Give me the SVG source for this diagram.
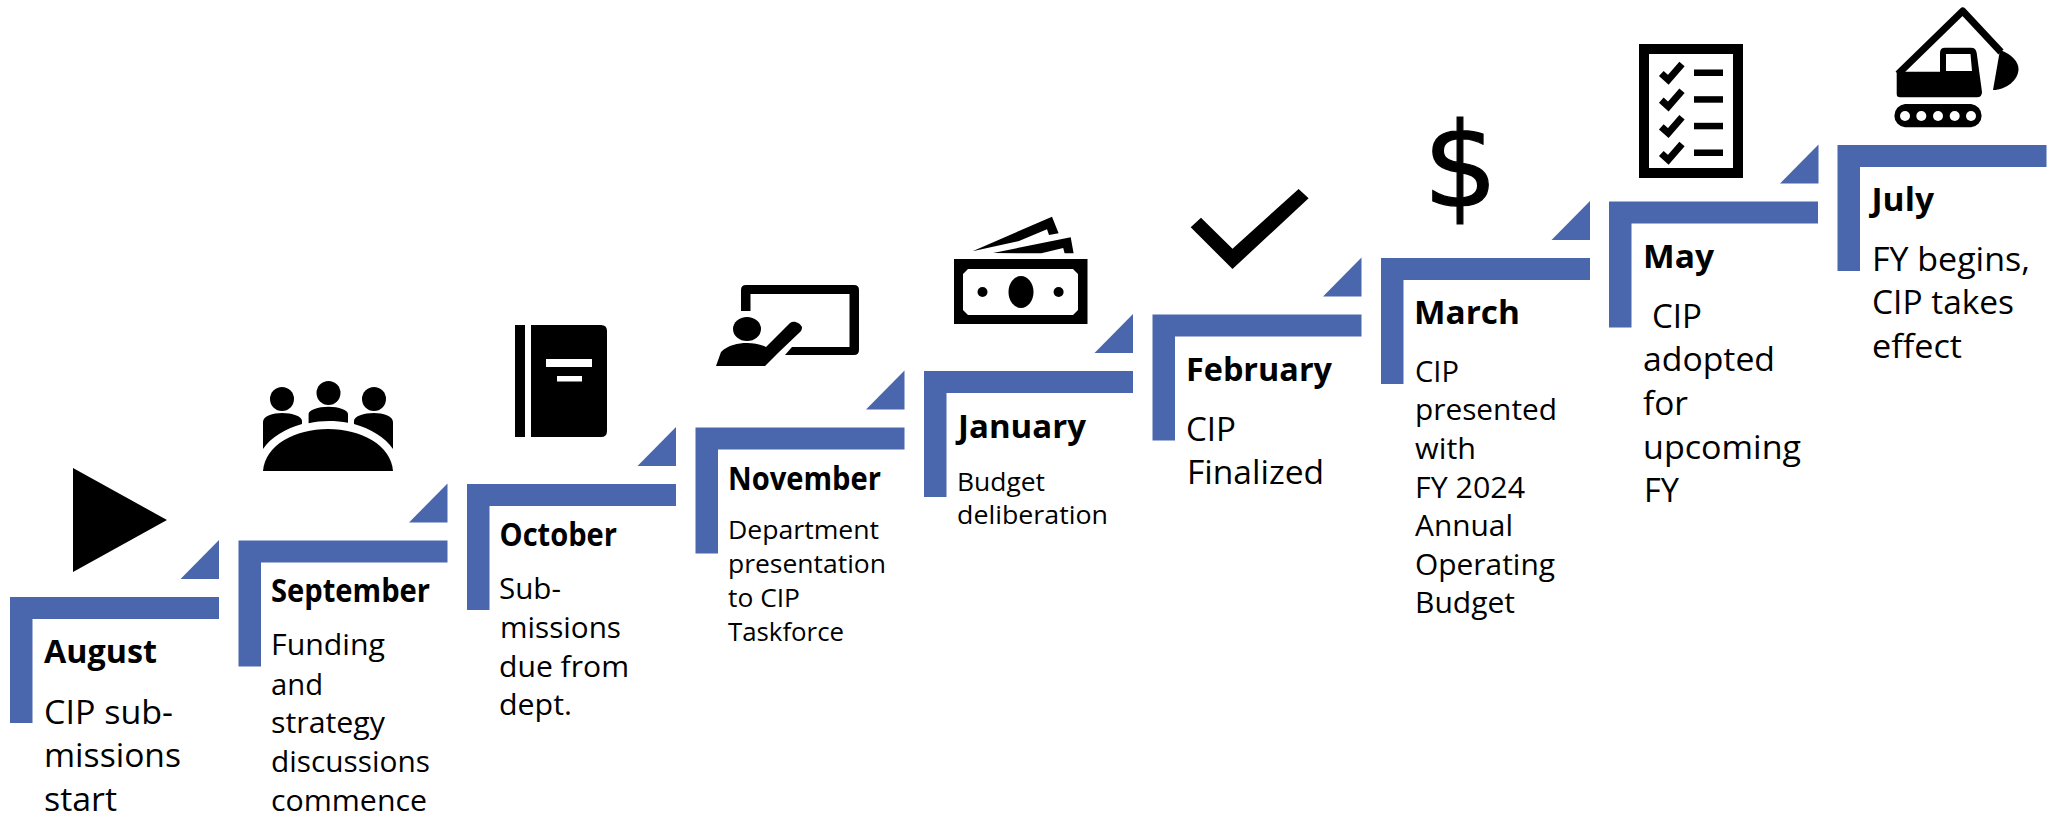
<svg xmlns="http://www.w3.org/2000/svg" xmlns:xlink="http://www.w3.org/1999/xlink" width="2049" height="817" viewBox="0 0 2049 817">
<style>
text{font-family:"Open Sans","Noto Sans","Liberation Sans",sans-serif;fill:#000}
.t{font-weight:700;font-size:31.500px}
.b{font-size:33px}
.m{font-size:29px}
.s{font-size:25px}
.step{fill:#4A67AE}
.ic{fill:#000}
.w{fill:#fff}
</style>
<defs>
<path id="bracket" class="step" d="M0 0H209V22H22.500V126H0Z"/>
<polygon id="tri" class="step" points="0,39 38.500,0 38.500,39"/>
<polyline id="tick" points="1661.300,73.500 1668.300,79.800 1682,64" fill="none" stroke="#000" stroke-width="7"/>
<rect id="dash" x="1694" y="69.500" width="29" height="6.500" fill="#000"/>
</defs>
<rect width="2049" height="817" fill="#fff"/>
<g id="connectors">
<use xlink:href="#tri" href="#tri" x="180.500" y="540"/>
<use xlink:href="#tri" href="#tri" x="409" y="483.500"/>
<use xlink:href="#tri" href="#tri" x="637.500" y="427"/>
<use xlink:href="#tri" href="#tri" x="866" y="370.500"/>
<use xlink:href="#tri" href="#tri" x="1094.500" y="314"/>
<use xlink:href="#tri" href="#tri" x="1323" y="257.500"/>
<use xlink:href="#tri" href="#tri" x="1551.500" y="201"/>
<use xlink:href="#tri" href="#tri" x="1780" y="144.500"/>
</g>
<g id="node-august">
<use xlink:href="#bracket" href="#bracket" x="10" y="597"/>
<polygon class="ic" points="73,468 167,520 73,572"/>
<text class="t" x="44" y="663" textLength="113" lengthAdjust="spacingAndGlyphs">August</text>
<text class="b" x="44" y="724" textLength="129" lengthAdjust="spacingAndGlyphs">CIP sub-</text>
<text class="b" x="44" y="767" textLength="137" lengthAdjust="spacingAndGlyphs">missions</text>
<text class="b" x="44" y="811" textLength="73" lengthAdjust="spacingAndGlyphs">start</text>
</g>
<g id="node-september">
<use xlink:href="#bracket" href="#bracket" x="238.500" y="540.500"/>
<ellipse class="ic" cx="282" cy="399" rx="12" ry="12"/>
<ellipse class="ic" cx="328.500" cy="393" rx="12" ry="12"/>
<ellipse class="ic" cx="374" cy="399" rx="12" ry="12"/>
<path class="ic" d="M263 449V422C263 416 273 413 282 413C292 413 302 416 302 421V424C285 429 271 437 263 449Z"/>
<path class="ic" d="M393 449V422C393 416 383 413 374 413C364 413 354 416 354 421V424C371 429 385 437 393 449Z"/>
<path class="ic" d="M308.600 423.300V414C308.600 410 318 406.700 328.400 406.700C339 406.700 348 410 348 414V422.700C335 420.300 321 420.300 308.600 423.300Z"/>
<path class="ic" d="M263 471C265 445 295 429 328 429C361 429 391 445 393 471Z"/>
<text class="t" x="271" y="602" textLength="159" lengthAdjust="spacingAndGlyphs">September</text>
<text class="m" x="271" y="655" textLength="114" lengthAdjust="spacingAndGlyphs">Funding</text>
<text class="m" x="271" y="695" textLength="52" lengthAdjust="spacingAndGlyphs">and</text>
<text class="m" x="271" y="733" textLength="114" lengthAdjust="spacingAndGlyphs">strategy</text>
<text class="m" x="271" y="772" textLength="159" lengthAdjust="spacingAndGlyphs">discussions</text>
<text class="m" x="271" y="811" textLength="156" lengthAdjust="spacingAndGlyphs">commence</text>
</g>
<g id="node-october">
<use xlink:href="#bracket" href="#bracket" x="467" y="484"/>
<rect class="ic" x="515" y="325" width="10" height="112"/>
<path class="ic" d="M531 325H601Q607 325 607 331V431Q607 437 601 437H531Z"/>
<rect class="w" x="546" y="359" width="46" height="8"/>
<rect class="w" x="557" y="376" width="25" height="5.500"/>
<text class="t" x="499.500" y="546" textLength="117.500" lengthAdjust="spacingAndGlyphs">October</text>
<text class="m" x="499" y="599" textLength="62" lengthAdjust="spacingAndGlyphs">Sub-</text>
<text class="m" x="500" y="638" textLength="121" lengthAdjust="spacingAndGlyphs">missions</text>
<text class="m" x="499" y="677" textLength="130" lengthAdjust="spacingAndGlyphs">due from</text>
<text class="m" x="499" y="715" textLength="73" lengthAdjust="spacingAndGlyphs">dept.</text>
</g>
<g id="node-november">
<use xlink:href="#bracket" href="#bracket" x="695.500" y="427.500"/>
<path class="ic" fill-rule="evenodd" d="M741 311V290Q741 285 746 285H854Q859 285 859 290V350Q859 355 854 355H785L792 347H849.500V294H750.500V311Z"/>
<ellipse class="ic" cx="747" cy="329" rx="14" ry="12"/>
<path class="ic" d="M716 366L721 352C728 345 738 343 747 343C754 343 760 344 766 347L790 323C794 320 800 323 802 327C802 330 801 331 799 333L778 353L765 366Z"/>
<text class="t" x="728" y="490" textLength="153" lengthAdjust="spacingAndGlyphs">November</text>
<text class="s" x="728" y="539" textLength="151" lengthAdjust="spacingAndGlyphs">Department</text>
<text class="s" x="728" y="573" textLength="158" lengthAdjust="spacingAndGlyphs">presentation</text>
<text class="s" x="728" y="607" textLength="72" lengthAdjust="spacingAndGlyphs">to CIP</text>
<text class="s" x="728" y="641" textLength="116" lengthAdjust="spacingAndGlyphs">Taskforce</text>
</g>
<g id="node-january">
<use xlink:href="#bracket" href="#bracket" x="924" y="371"/>
<path class="ic" fill-rule="evenodd" d="M954 259H1087.500V324H954ZM968 269L963 274V310L968 315H1073L1078 310V274L1073 269Z"/>
<ellipse class="ic" cx="1021" cy="292" rx="12.500" ry="16"/>
<circle class="ic" cx="982.500" cy="292" r="5"/>
<circle class="ic" cx="1058.600" cy="292" r="5"/>
<polygon class="ic" points="972.500,251.300 1052,216.700 1058.600,233.300 1049,235 1047,229.300 1019,241"/>
<polygon class="ic" points="993,253 1070.700,237.300 1073.600,253.300 1064.600,253.300 1063.200,248 1041.400,253.300"/>
<text class="t" x="958" y="438" textLength="128" lengthAdjust="spacingAndGlyphs">January</text>
<text class="s" x="957" y="491" textLength="88" lengthAdjust="spacingAndGlyphs">Budget</text>
<text class="s" x="957" y="524" textLength="151" lengthAdjust="spacingAndGlyphs">deliberation</text>
</g>
<g id="node-february">
<use xlink:href="#bracket" href="#bracket" x="1152.500" y="314.500"/>
<polygon class="ic" points="1190.700,227.300 1201,217.700 1232.500,248.700 1298.600,189 1308.600,198.300 1232.500,269"/>
<text class="t" x="1186" y="381" textLength="146" lengthAdjust="spacingAndGlyphs">February</text>
<text class="b" x="1186" y="441" textLength="50" lengthAdjust="spacingAndGlyphs">CIP</text>
<text class="b" x="1187" y="484" textLength="137" lengthAdjust="spacingAndGlyphs">Finalized</text>
</g>
<g id="node-march">
<use xlink:href="#bracket" href="#bracket" x="1381" y="258"/>
<text x="1460.500" y="207" text-anchor="middle" stroke="#000" stroke-width="1.200" style="font-family:'DejaVu Sans',sans-serif;font-size:118px">$</text>
<text class="t" x="1414" y="324" textLength="106" lengthAdjust="spacingAndGlyphs">March</text>
<text class="m" x="1415" y="382" textLength="44" lengthAdjust="spacingAndGlyphs">CIP</text>
<text class="m" x="1415" y="420" textLength="142" lengthAdjust="spacingAndGlyphs">presented</text>
<text class="m" x="1415" y="459" textLength="61" lengthAdjust="spacingAndGlyphs">with</text>
<text class="m" x="1415" y="498" textLength="110" lengthAdjust="spacingAndGlyphs">FY 2024</text>
<text class="m" x="1415" y="536" textLength="98" lengthAdjust="spacingAndGlyphs">Annual</text>
<text class="m" x="1415" y="575" textLength="140" lengthAdjust="spacingAndGlyphs">Operating</text>
<text class="m" x="1415" y="613" textLength="100" lengthAdjust="spacingAndGlyphs">Budget</text>
</g>
<g id="node-may">
<use xlink:href="#bracket" href="#bracket" x="1609" y="201.500"/>
<path class="ic" fill-rule="evenodd" d="M1639 44H1743V178H1639ZM1649 54V168H1733V54Z"/>
<use xlink:href="#tick" href="#tick"/><use xlink:href="#dash" href="#dash"/>
<use xlink:href="#tick" href="#tick" y="26.700"/><use xlink:href="#dash" href="#dash" y="26.700"/>
<use xlink:href="#tick" href="#tick" y="53.300"/><use xlink:href="#dash" href="#dash" y="53.300"/>
<use xlink:href="#tick" href="#tick" y="80"/><use xlink:href="#dash" href="#dash" y="80"/>
<text class="t" x="1643" y="268" textLength="71" lengthAdjust="spacingAndGlyphs">May</text>
<text class="b" x="1652" y="328" textLength="50" lengthAdjust="spacingAndGlyphs">CIP</text>
<text class="b" x="1643" y="371" textLength="132" lengthAdjust="spacingAndGlyphs">adopted</text>
<text class="b" x="1643" y="415" textLength="45" lengthAdjust="spacingAndGlyphs">for</text>
<text class="b" x="1643" y="459" textLength="158" lengthAdjust="spacingAndGlyphs">upcoming</text>
<text class="b" x="1644" y="502" textLength="35" lengthAdjust="spacingAndGlyphs">FY</text>
</g>
<g id="node-july">
<use xlink:href="#bracket" href="#bracket" x="1837.500" y="145"/>
<path d="M1898 74L1962.700 11L2001 52" fill="none" stroke="#000" stroke-width="7" stroke-linejoin="round"/>
<path class="ic" d="M2000 50C2012 54 2018.500 62 2018.500 69C2018.500 80 2006 90 1993 90Z"/>
<path class="ic" fill-rule="evenodd" d="M1896.700 71.700H1940V53Q1940 47.700 1945 47.700H1971Q1976 47.700 1976.700 53L1982 92Q1982 97.300 1977 97.300H1900Q1896.700 97.300 1896.700 94ZM1946 54V71H1972L1970.500 54Z"/>
<path class="ic" fill-rule="evenodd" d="M1905 104H1971A11.700 11.700 0 0 1 1971 127.300H1905A11.700 11.700 0 0 1 1905 104Z"/>
<circle class="w" cx="1905" cy="116" r="5"/>
<circle class="w" cx="1921.300" cy="116" r="5"/>
<circle class="w" cx="1938" cy="116" r="5"/>
<circle class="w" cx="1954.700" cy="116" r="5"/>
<circle class="w" cx="1971" cy="116" r="5"/>
<text class="t" x="1871.500" y="211" textLength="62.500" lengthAdjust="spacingAndGlyphs">July</text>
<text class="b" x="1872" y="271" textLength="158" lengthAdjust="spacingAndGlyphs">FY begins,</text>
<text class="b" x="1872" y="314" textLength="142" lengthAdjust="spacingAndGlyphs">CIP takes</text>
<text class="b" x="1872" y="358" textLength="90" lengthAdjust="spacingAndGlyphs">effect</text>
</g>
</svg>
